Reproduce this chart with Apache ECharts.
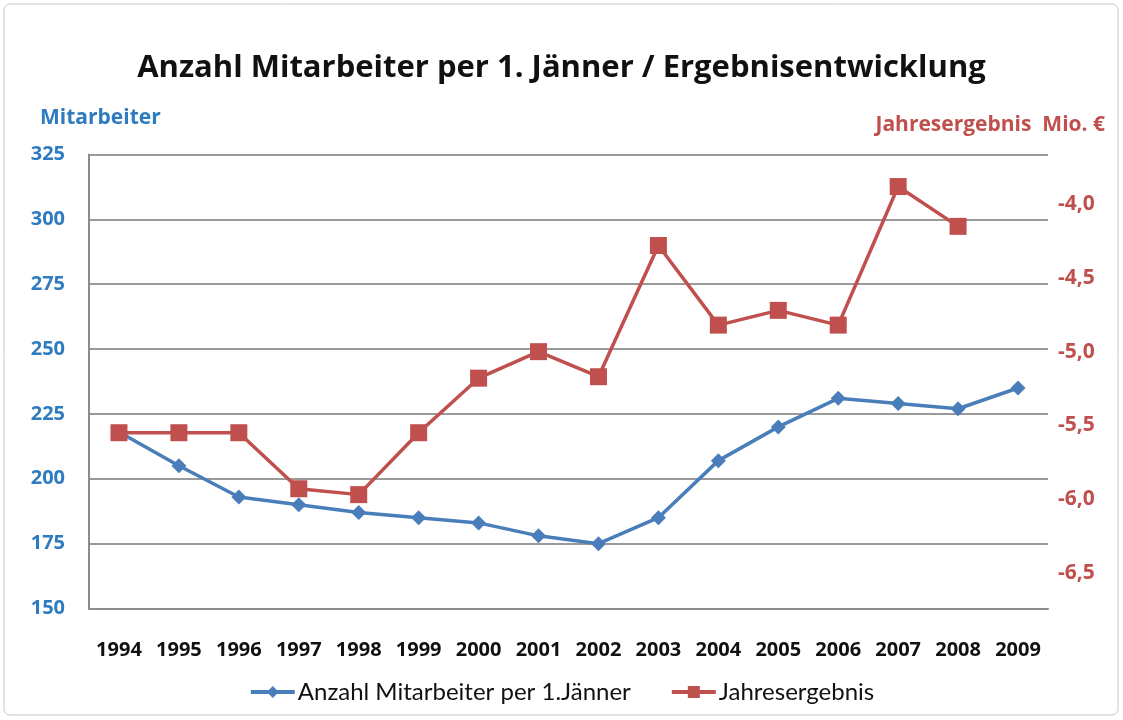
<!DOCTYPE html>
<html>
<head>
<meta charset="utf-8">
<script src="https://cdn.jsdelivr.net/npm/echarts@6/dist/echarts.min.js"></script>
<style>
  html, body { margin: 0; padding: 0; background: #fff; }
  #chart { width: 1123px; height: 720px; }
</style>
</head>
<body>
<div id="chart"></div>
<script>
const years = ['1994', '1995', '1996', '1997', '1998', '1999', '2000', '2001',
  '2002', '2003', '2004', '2005', '2006', '2007', '2008', '2009']
const mitarbeiter = [218, 205, 193, 190, 187, 185, 183, 178, 175, 185, 207, 220, 231, 229, 227, 235]
const ergebnis = [-5.55, -5.55, -5.55, -5.93, -5.97, -5.55, -5.18, -5.0, -5.17, -4.28, -4.82, -4.72, -4.82, -3.88, -4.15, null]
const rightLabels = [-4.0, -4.5, -5.0, -5.5, -6.0, -6.5]

const blue = '#4A7EBB'
const red = '#C0504D'
const labelBlue = '#2F7BC0'
const wideFont = '"Open Sans", "DejaVu Sans", sans-serif'
const narrowFont = 'Lato, "Liberation Sans", sans-serif'

const chart = echarts.init( document.getElementById( 'chart' ) )

chart.setOption( {
  backgroundColor : '#fff',
  animation : false,
  title : {
    text : 'Anzahl Mitarbeiter per 1. Jänner / Ergebnisentwicklung',
    left : 'center',
    top : 48,
    textStyle : { fontFamily : wideFont, fontWeight : 'bold', fontSize : 31, color : '#111' }
  },
  graphic : [
    {
      type : 'rect',
      shape : { x : 4, y : 4, width : 1114, height : 711, r : 6 },
      style : { fill : 'none', stroke : '#c8c8c8', lineWidth : 1 }
    },
    {
      type : 'text',
      left : 40, top : 108,
      style : { text : 'Mitarbeiter', fill : labelBlue, font : 'bold 21px ' + wideFont }
    },
    {
      type : 'text',
      right : 18, top : 115,
      style : { text : 'Jahresergebnis  Mio. €', fill : red, font : 'bold 21px ' + wideFont }
    }
  ],
  legend : {
    top : 675,
    left : 'center',
    itemWidth : 44,
    itemHeight : 15,
    itemGap : 39,
    lineStyle : { width : 4 },
    textStyle : { fontFamily : narrowFont, fontSize : 24, color : '#111', padding : [0, 0, 0, -2] },
    data : ['Anzahl Mitarbeiter per 1.Jänner', 'Jahresergebnis']
  },
  grid : {
    left : 89,
    right : 75,
    top : 154.5,
    bottom : 111.5,
    containLabel : false,
    outerBoundsMode : 'none'
  },
  xAxis : {
    type : 'category',
    data : years,
    boundaryGap : true,
    axisLine : { lineStyle : { color : '#8c8c8c', width : 2 } },
    axisTick : { show : false },
    axisLabel : { color : '#111', fontFamily : wideFont, fontSize : 20, fontWeight : 'bold', margin : 32 }
  },
  yAxis : [
    {
      type : 'value',
      min : 150,
      max : 325,
      interval : 25,
      position : 'left',
      axisLine : { show : true, lineStyle : { color : '#8c8c8c', width : 2 } },
      axisTick : { show : false },
      splitLine : { lineStyle : { color : '#9a9a9a', width : 2 } },
      axisLabel : { color : labelBlue, fontFamily : wideFont, fontSize : 20, fontWeight : 'bold', margin : 24 }
    },
    {
      type : 'value',
      min : -6.7425,
      max : -3.6625,
      position : 'right',
      axisLine : { show : false },
      axisTick : { show : false },
      splitLine : { show : false },
      axisLabel : {
        customValues : rightLabels,
        color : red,
        fontFamily : wideFont,
        fontSize : 21,
        fontWeight : 'bold',
        margin : 10,
        formatter : v => v.toFixed( 1 ).replace( '.', ',' )
      }
    }
  ],
  series : [
    {
      name : 'Anzahl Mitarbeiter per 1.Jänner',
      type : 'line',
      yAxisIndex : 0,
      data : mitarbeiter,
      symbol : 'diamond',
      symbolSize : 15,
      z : 2,
      lineStyle : { color : blue, width : 3.5 },
      itemStyle : { color : blue }
    },
    {
      name : 'Jahresergebnis',
      type : 'line',
      yAxisIndex : 1,
      data : ergebnis,
      symbol : 'rect',
      symbolSize : 17,
      z : 3,
      lineStyle : { color : red, width : 3.5 },
      itemStyle : { color : red }
    }
  ]
} )
</script>
</body>
</html>
